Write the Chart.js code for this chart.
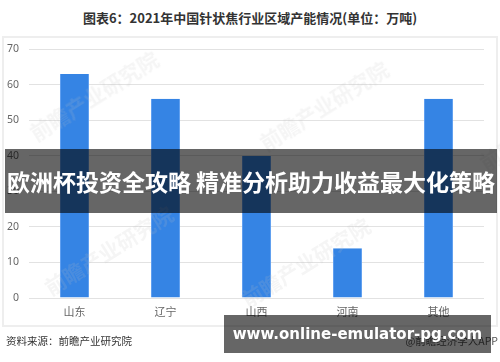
<!DOCTYPE html>
<html>
<head>
<meta charset="utf-8">
<script src="https://cdn.jsdelivr.net/npm/chart.js@4.4.1/dist/chart.umd.min.js"></script>
<style>
  body { margin: 0; background: #fff; font-family: "Noto Sans CJK SC", "Noto Sans", sans-serif; }
  #wrap { position: relative; width: 500px; height: 362px; overflow: hidden; }
  #title { position: absolute; left: 0; top: 8px; width: 500px; text-align: center;
           font-size: 13px; font-weight: bold; color: #333; }
  #frame { position: absolute; left: 2px; top: 36px; width: 492px; height: 287px;
           border: 2px solid #eeeeee; }
  #chartBox { position: absolute; left: 0; top: 0; width: 500px; height: 362px; }
  .wm { position: absolute; font-size: 21px; font-weight: bold; color: rgba(190,190,190,0.16);
        transform: rotate(-32deg); white-space: nowrap; }
  #source { position: absolute; left: 6px; top: 333px; font-size: 10.5px; color: #333; }
  #app { position: absolute; right: 2px; top: 333px; font-size: 10.5px; color: #555; }
  #banner1 { position: absolute; left: 5px; top: 149px; width: 492px; height: 64px;
             background: rgba(0,0,0,0.6); color: #fff; font-size: 23px; font-weight: bold;
             line-height: 64px; text-align: center; white-space: nowrap; }
  #banner2 { position: absolute; left: 224px; top: 315px; width: 267px; height: 38px;
             background: rgba(0,0,0,0.6); color: #fff; font-family: "DejaVu Sans", sans-serif;
             font-size: 15px; font-weight: bold; line-height: 38px; text-align: center; }
</style>
</head>
<body>
<div id="wrap">
  <div id="title">图表6：2021年中国针状焦行业区域产能情况(单位：万吨)</div>
  <div id="frame"></div>
  <div id="chartBox"><canvas id="capChart"></canvas></div>
  <div class="wm" style="left:20px;top:80px;">前瞻产业研究院</div>
  <div class="wm" style="left:250px;top:90px;">前瞻产业研究院</div>
  <div class="wm" style="left:35px;top:235px;">前瞻产业研究院</div>
  <div class="wm" style="left:232px;top:247px;">前瞻产业研究院</div>
  <div class="wm" style="left:470px;top:110px;">前瞻产业研究院</div>
  <div id="source">资料来源：前瞻产业研究院</div>
  <div id="app">@前瞻经济学人APP</div>
  <div id="banner1">欧洲杯投资全攻略 精准分析助力收益最大化策略</div>
  <div id="banner2">www.online-emulator-pg.com</div>
</div>
<script>
// 区域 / 产能(万吨)
const regions = ["山东", "辽宁", "山西", "河南", "其他"];
const capacity = [63, 56, 40, 14, 56];
const yTicks = [0, 10, 20, 30, 40, 50, 60, 70];

const ctx = document.getElementById("capChart").getContext("2d");
new Chart(ctx, {
  type: "bar",
  data: {
    labels: regions,
    datasets: [{
      label: "产能",
      data: capacity,
      backgroundColor: "#3584e4",
      borderColor: "#5a9cef",
      borderWidth: { left: 1, right: 1, top: 0, bottom: 0 },
      barPercentage: 0.32,
      categoryPercentage: 1
    }]
  },
  options: {
    responsive: true,
    maintainAspectRatio: false,
    animation: false,
    layout: { padding: { left: 0, right: 16, top: 49, bottom: 0 } },
    plugins: {
      legend: { display: false },
      tooltip: { enabled: false }
    },
    scales: {
      x: {
        grid: { display: false, drawTicks: false },
        border: { display: false },
        ticks: { color: "#666", padding: 7, font: { size: 11, family: "Noto Sans CJK SC" } },
        afterFit: (scale) => { scale.height = 64; }
      },
      y: {
        min: 0,
        max: 70,
        afterBuildTicks: (scale) => { scale.ticks = yTicks.map(v => ({ value: v })); },
        grid: { color: "#e2e2e2", drawTicks: false },
        border: { display: false },
        ticks: { color: "#666", padding: 10, font: { size: 10.5, family: "Noto Sans" } },
        afterFit: (scale) => { scale.width = 29; }
      }
    }
  }
});
</script>
</body>
</html>
